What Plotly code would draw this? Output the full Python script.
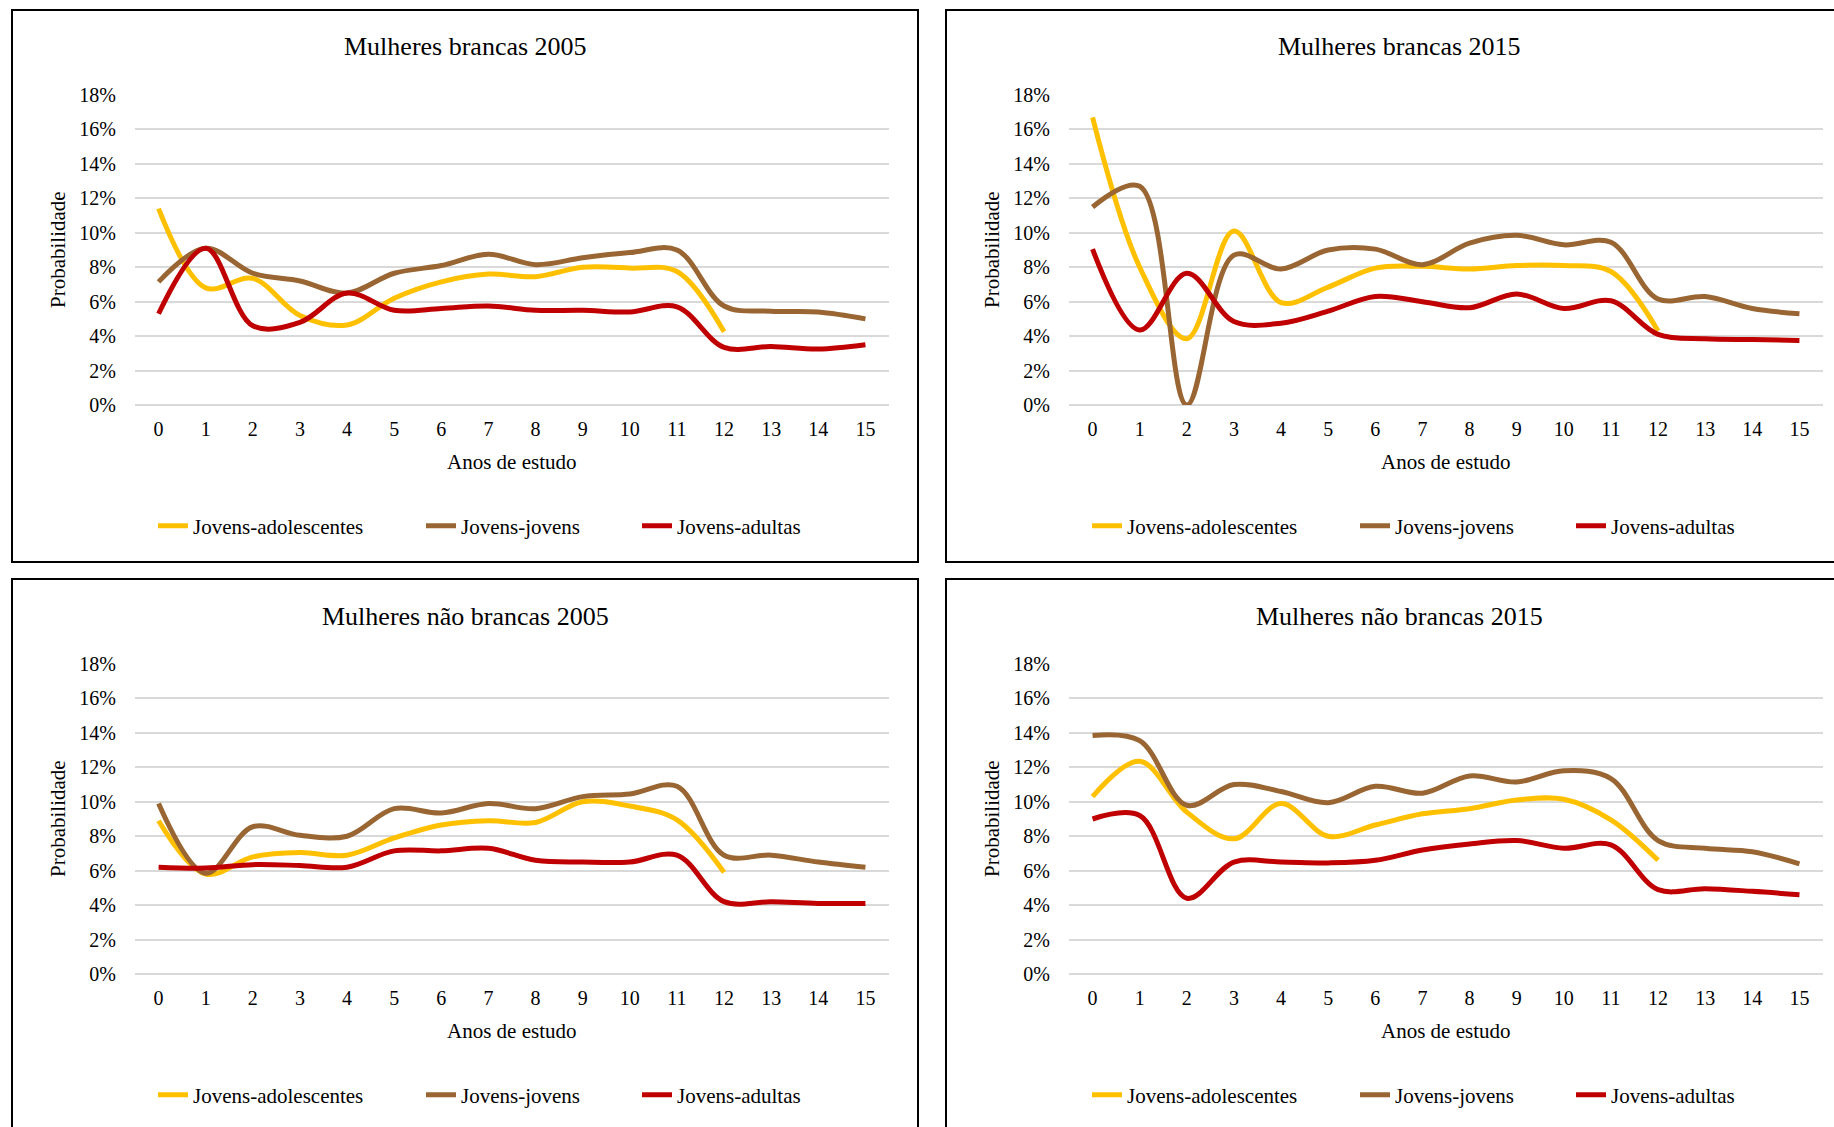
import plotly.graph_objects as go

# ---- data (percent) ----
anos = list(range(16))
series_names = ["Jovens-adolescentes", "Jovens-jovens", "Jovens-adultas"]
panel_titles = ["Mulheres brancas 2005", "Mulheres brancas 2015",
                "Mulheres não brancas 2005", "Mulheres não brancas 2015"]

# Mulheres brancas 2005
b05_adolescentes = [11.4, 6.8, 7.35, 5.2, 4.65, 6.2, 7.15, 7.6, 7.45, 8.0, 7.95, 7.75, 4.25]
b05_jovens = [7.15, 9.1, 7.65, 7.2, 6.5, 7.65, 8.1, 8.75, 8.15, 8.55, 8.85, 9.0, 5.75, 5.45, 5.4, 5.0]
b05_adultas = [5.3, 9.1, 4.6, 4.8, 6.5, 5.5, 5.6, 5.75, 5.5, 5.5, 5.4, 5.7, 3.35, 3.4, 3.25, 3.5]

# Mulheres brancas 2015
b15_adolescentes = [16.7, 8.0, 3.85, 10.1, 5.95, 6.85, 7.95, 8.05, 7.9, 8.1, 8.1, 7.75, 4.3]
b15_jovens = [11.5, 12.7, 0.0, 8.7, 7.9, 9.0, 9.05, 8.15, 9.4, 9.85, 9.3, 9.45, 6.15, 6.3, 5.6, 5.3]
b15_adultas = [9.05, 4.35, 7.65, 4.85, 4.75, 5.45, 6.3, 6.0, 5.65, 6.45, 5.6, 6.05, 4.1, 3.85, 3.8, 3.75]

# Mulheres não brancas 2005
n05_adolescentes = [8.9, 5.8, 6.8, 7.05, 6.9, 7.9, 8.65, 8.9, 8.8, 10.0, 9.75, 8.95, 5.9]
n05_jovens = [9.9, 5.85, 8.55, 8.05, 8.0, 9.6, 9.35, 9.9, 9.6, 10.3, 10.45, 10.9, 6.9, 6.9, 6.5, 6.2]
n05_adultas = [6.2, 6.15, 6.35, 6.3, 6.2, 7.15, 7.15, 7.3, 6.6, 6.5, 6.5, 6.9, 4.2, 4.2, 4.1, 4.1]

# Mulheres não brancas 2015
n15_adolescentes = [10.3, 12.35, 9.4, 7.85, 9.9, 8.0, 8.65, 9.3, 9.6, 10.1, 10.15, 8.95, 6.6]
n15_jovens = [13.85, 13.55, 9.8, 11.0, 10.6, 9.95, 10.9, 10.5, 11.5, 11.15, 11.8, 11.35, 7.75, 7.3, 7.1, 6.4]
n15_adultas = [9.0, 9.2, 4.4, 6.5, 6.5, 6.45, 6.6, 7.2, 7.55, 7.75, 7.3, 7.5, 4.9, 4.95, 4.8, 4.6]

panels = [
    [b05_adolescentes, b05_jovens, b05_adultas],
    [b15_adolescentes, b15_jovens, b15_adultas],
    [n05_adolescentes, n05_jovens, n05_adultas],
    [n15_adolescentes, n15_jovens, n15_adultas],
]

colors = ["#FFC000", "#996633", "#C00000"]
FONT = "Liberation Serif, Times New Roman, serif"

# ---- layout geometry (pixels) ----
W, H = 1834, 1127
DX, DY = 934, 569           # offset between panels
PLOT_L, PLOT_R = 135, 889   # plot area of the top-left panel
PLOT_T, PLOT_B = 95, 405


def px(x):
    return x / W


def py(y):
    return 1 - y / H


fig = go.Figure()
annotations = []
shapes = []

for i, (title, data) in enumerate(zip(panel_titles, panels)):
    col, row = i % 2, i // 2
    ox, oy = col * DX, row * DY
    n = i + 1
    xa = "x" if n == 1 else f"x{n}"
    ya = "y" if n == 1 else f"y{n}"
    lg = "legend" if n == 1 else f"legend{n}"

    for name, vals, color, lw in zip(series_names, data, colors, [223, 171, 130]):
        fig.add_trace(go.Scatter(
            x=anos[:len(vals)], y=[v / 100 for v in vals], name=name,
            mode="lines", line=dict(color=color, width=5, shape="spline", smoothing=1),
            xaxis=xa, yaxis=ya, legend=lg, legendwidth=lw,
            hovertemplate="%{y:.1%}<extra>" + name + "</extra>",
        ))

    axis_x = dict(domain=[px(PLOT_L + ox), px(PLOT_R + ox)], anchor=ya,
                  range=[-0.5, 15.5], tickmode="array", tickvals=anos,
                  ticktext=[str(a) for a in anos], showgrid=False, zeroline=False,
                  showline=False, ticks="", ticklabelstandoff=10,
                  tickfont=dict(family=FONT, size=20, color="black"), fixedrange=True)
    axis_y = dict(domain=[py(PLOT_B + oy), py(PLOT_T + oy)], anchor=xa,
                  range=[0, 0.18], dtick=0.02, tickformat=".0%",
                  showgrid=True, gridcolor="#D9D9D9", gridwidth=2,
                  zeroline=True, zerolinecolor="#D9D9D9", zerolinewidth=2,
                  showline=False, ticks="", ticklabelstandoff=18,
                  tickfont=dict(family=FONT, size=20, color="black"), fixedrange=True)
    fig.update_layout({("xaxis" if n == 1 else f"xaxis{n}"): axis_x,
                       ("yaxis" if n == 1 else f"yaxis{n}"): axis_y})

    fig.update_layout({lg: dict(orientation="h", x=px(153 + ox), xanchor="left",
                                y=py(526 + oy), yanchor="middle", bgcolor="rgba(0,0,0,0)",
                                font=dict(family=FONT, size=21, color="black"),
                                borderwidth=0, traceorder="normal")})

    # panel frame
    shapes.append(dict(type="rect", xref="paper", yref="paper",
                       x0=px(12 + ox), x1=px(918 + ox), y0=py(562 + oy), y1=py(10 + oy),
                       line=dict(color="black", width=2)))

    annotations.append(dict(text=title, xref="paper", yref="paper",
                            x=px(465 + ox), y=py(47 + oy), showarrow=False,
                            xanchor="center", yanchor="middle",
                            font=dict(family=FONT, size=26, color="black")))
    annotations.append(dict(text="Anos de estudo", xref="paper", yref="paper",
                            x=px(512 + ox), y=py(462 + oy), showarrow=False,
                            xanchor="center", yanchor="middle",
                            font=dict(family=FONT, size=21, color="black")))
    annotations.append(dict(text="Probabilidade", xref="paper", yref="paper",
                            x=px(58 + ox), y=py(250 + oy), showarrow=False, textangle=-90,
                            xanchor="center", yanchor="middle",
                            font=dict(family=FONT, size=21, color="black")))

fig.update_layout(
    width=W, height=H, margin=dict(l=0, r=0, t=0, b=0, autoexpand=False),
    paper_bgcolor="white", plot_bgcolor="white",
    annotations=annotations, shapes=shapes,
)

# pin the figure to the window corner, no page margin, no scrolling
pin = ("document.documentElement.style.overflow='hidden';"
       "document.body.style.margin='0';document.body.style.overflow='hidden';"
       "var d=document.getElementById('{plot_id}');"
       "d.style.position='absolute';d.style.left='0';d.style.top='0';")
fig.write_html("out.html", config={"displayModeBar": False}, post_script=pin)
